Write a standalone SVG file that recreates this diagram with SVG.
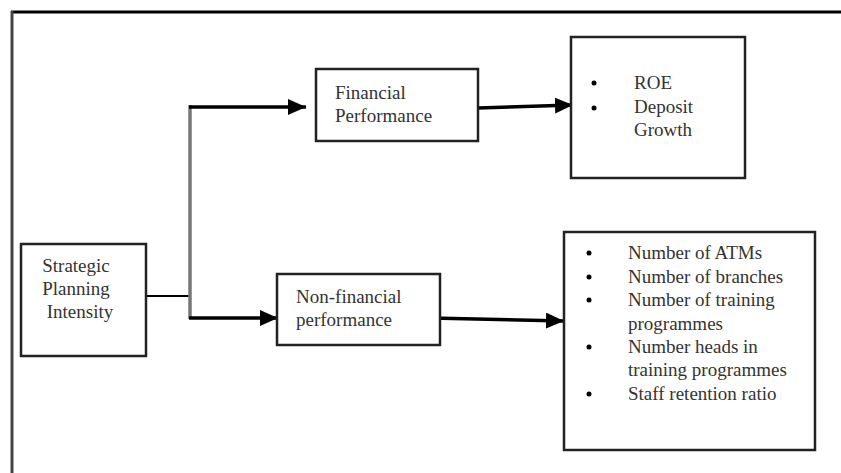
<svg xmlns="http://www.w3.org/2000/svg" width="841" height="473" viewBox="0 0 841 473">
<style>
.box{fill:#fff;stroke:#222;stroke-width:2.5}
.t{font-family:"Liberation Serif","Times New Roman",serif;font-size:19px;fill:#333}
.ar{stroke:#000;stroke-width:3.5;fill:none}
.dot{fill:#000}
</style>
<defs>
<marker id="ah" markerUnits="userSpaceOnUse" markerWidth="20" markerHeight="16" refX="18" refY="8" orient="auto">
<path d="M0,0 L18,8 L0,16 Z" fill="#000"/>
</marker>
</defs>
<rect width="841" height="473" fill="#fff"/>
<g id="frame">
<line x1="11" y1="12" x2="841" y2="12" stroke="#000" stroke-width="3"/>
<line x1="12" y1="11" x2="12" y2="473" stroke="#444" stroke-width="3"/>
</g>
<g id="connectors">
<line x1="146" y1="296" x2="191" y2="296" stroke="#000" stroke-width="2"/>
<line x1="190" y1="105" x2="190" y2="319" stroke="#777" stroke-width="3.5"/>
<line class="ar" x1="189" y1="107" x2="306" y2="107" marker-end="url(#ah)"/>
<line class="ar" x1="189" y1="318" x2="278" y2="318" marker-end="url(#ah)"/>
<line class="ar" x1="478" y1="108" x2="573" y2="105" marker-end="url(#ah)"/>
<line class="ar" x1="430" y1="318" x2="564" y2="321" marker-end="url(#ah)"/>
</g>
<g id="strategic">
<rect class="box" x="21" y="244" width="125" height="112"/>
<text class="t" x="76" y="272" text-anchor="middle">Strategic</text>
<text class="t" x="76" y="295" text-anchor="middle">Planning</text>
<text class="t" x="80" y="318" text-anchor="middle">Intensity</text>
</g>
<g id="financial">
<rect class="box" x="316" y="69" width="162" height="72"/>
<text class="t" x="335" y="99">Financial</text>
<text class="t" x="335" y="122">Performance</text>
</g>
<g id="nonfinancial">
<rect class="box" x="277" y="274" width="163" height="71"/>
<text class="t" x="296" y="303">Non-financial</text>
<text class="t" x="296" y="326">performance</text>
</g>
<g id="roe">
<rect class="box" x="571" y="37" width="174" height="141"/>
<circle class="dot" cx="594" cy="83" r="2.5"/>
<circle class="dot" cx="594" cy="108" r="2.5"/>
<text class="t" x="634" y="89">ROE</text>
<text class="t" x="634" y="113">Deposit</text>
<text class="t" x="634" y="136">Growth</text>
</g>
<g id="nonfin-list">
<rect class="box" x="564" y="232" width="251" height="218"/>
<circle class="dot" cx="589" cy="253" r="2.5"/>
<circle class="dot" cx="589" cy="277" r="2.5"/>
<circle class="dot" cx="589" cy="300" r="2.5"/>
<circle class="dot" cx="589" cy="347" r="2.5"/>
<circle class="dot" cx="589" cy="394" r="2.5"/>
<text class="t" x="628" y="259">Number of ATMs</text>
<text class="t" x="628" y="283">Number of branches</text>
<text class="t" x="628" y="306">Number of training</text>
<text class="t" x="628" y="330">programmes</text>
<text class="t" x="628" y="353">Number heads in</text>
<text class="t" x="628" y="376">training programmes</text>
<text class="t" x="628" y="400">Staff retention ratio</text>
</g>
</svg>
